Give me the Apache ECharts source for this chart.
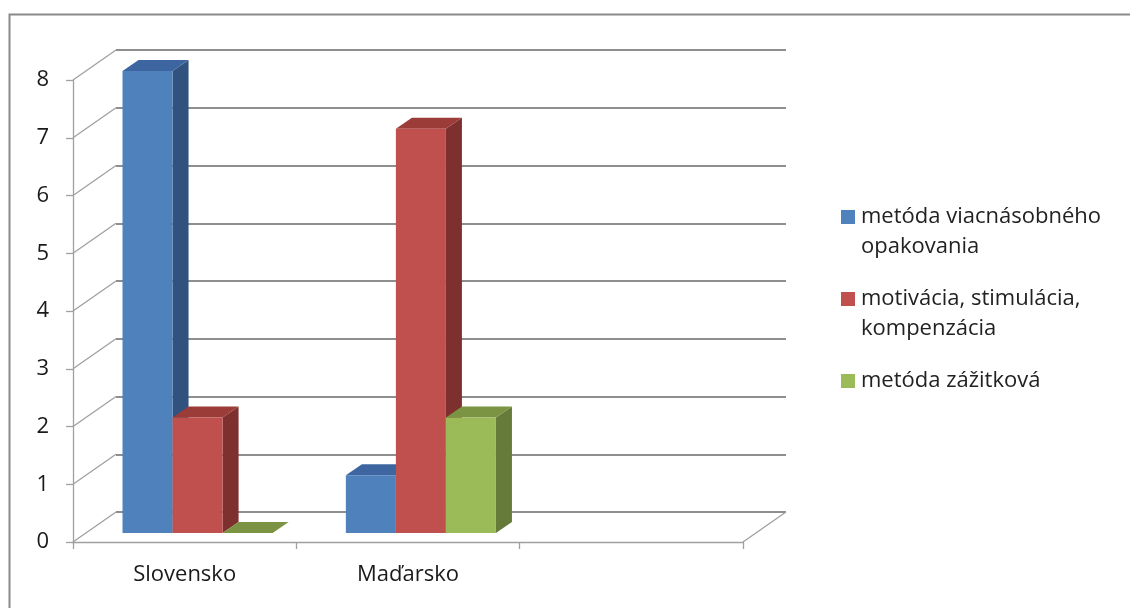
<!DOCTYPE html>
<html><head><meta charset="utf-8">
<script src="https://cdn.jsdelivr.net/npm/echarts@6/dist/echarts.min.js"></script>
<style>html,body{margin:0;padding:0;background:#fff}#c{width:1130px;height:608px}</style>
</head><body><div id="c"></div>
<script>
// ---- data ----
const categories = ['Slovensko', 'Maďarsko', ''];
const seriesNames = ['metóda viacnásobného opakovania', 'motivácia, stimulácia, kompenzácia', 'metóda zážitková'];
const legendLabels = ['metóda viacnásobného\nopakovania', 'motivácia, stimulácia,\nkompenzácia', 'metóda zážitková'];
const valuesViacnasobne = [8, 1];
const valuesMotivacia = [2, 7];
const valuesZazitkova = [0, 2];
const yTicks = [0, 1, 2, 3, 4, 5, 6, 7, 8];

// ---- style ----
const FONT = '"Open Sans", "Noto Sans", sans-serif';
const faceColors = [
  { front: '#4F81BD', side: '#31527F', top: '#3D66A0' },
  { front: '#C0504D', side: '#7D302E', top: '#9C3C39' },
  { front: '#9BBB59', side: '#667B3A', top: '#7A9444' }
];
const DEPTH_X = 43, DEPTH_Y = -30;   // front -> back wall
const BAR_DX = 16, BAR_DY = -11;     // bar thickness
const GRID_COLOR = '#8E8E8E';

const seriesValues = [valuesViacnasobne, valuesMotivacia, valuesZazitkova];

const chart = echarts.init(document.getElementById('c'), null, { renderer: 'canvas' });

function barRender(sIdx) {
  return function (params, api) {
    const cat = api.value(0), v = api.value(1);
    const base = api.coord([cat, 0]);
    const top = api.coord([cat, v]);
    const band = api.size([1, 0])[0];
    const w = band * 0.224;
    const x0 = base[0] - 1.5 * w + sIdx * w;
    const x1 = x0 + w;
    const yT = top[1], yB = base[1];
    const c = faceColors[sIdx];
    return {
      type: 'group',
      children: [
        { type: 'polygon', shape: { points: [[x1, yT], [x1 + BAR_DX, yT + BAR_DY], [x1 + BAR_DX, yB + BAR_DY], [x1, yB]] }, style: { fill: c.side } },
        { type: 'polygon', shape: { points: [[x0, yT], [x0 + BAR_DX, yT + BAR_DY], [x1 + BAR_DX, yT + BAR_DY], [x1, yT]] }, style: { fill: c.top } },
        { type: 'rect', shape: { x: x0, y: yT, width: w, height: yB - yT }, style: { fill: c.front } }
      ]
    };
  };
}

function wallRender(params, api) {
  const cs = params.coordSys;
  const v = api.value(1);
  const y = api.coord([0, v])[1];
  const children = [
    { type: 'line', shape: { x1: cs.x, y1: y, x2: cs.x + DEPTH_X, y2: y + DEPTH_Y }, style: { stroke: '#A0A0A0', lineWidth: 1.3 } }
  ];
  if (v === 0) {
    children.push({ type: 'line', shape: { x1: cs.x + cs.width, y1: y, x2: cs.x + cs.width + DEPTH_X, y2: y + DEPTH_Y }, style: { stroke: '#A0A0A0', lineWidth: 1.3 } });
  }
  return { type: 'group', children };
}

const grids = [
  { left: 73, top: 80, width: 670, height: 462 },                          // front plane
  { left: 73 + DEPTH_X, top: 80 + DEPTH_Y, width: 670, height: 462 },      // back wall
  { left: 73 + 0.3 * DEPTH_X, top: 80 + 0.3 * DEPTH_Y, width: 670, height: 462 } // bar plane
];

const yBase = { type: 'value', min: 0, max: 8, interval: 1 };

// legend as graphic (first line aligned with the marker, like the reference)
const legendGraphics = [];
let ly = 217;
legendLabels.forEach((lbl, i) => {
  legendGraphics.push({ type: 'rect', left: 841, top: ly - 7, shape: { width: 14, height: 14 }, style: { fill: faceColors[i].front } });
  legendGraphics.push({ type: 'text', x: 861, y: ly - 15, style: { text: lbl, font: '22px ' + FONT, fill: '#222', lineHeight: 30, verticalAlign: 'top' } });
  ly += lbl.split('\n').length * 30 + 22;
});

chart.setOption({
  animation: false,
  backgroundColor: '#ffffff',
  grid: grids,
  xAxis: [
    { type: 'category', gridIndex: 0, data: categories, boundaryGap: true,
      axisLine: { lineStyle: { color: '#A0A0A0', width: 1.3 } },
      axisTick: { show: true, length: 7, lineStyle: { color: '#A0A0A0', width: 1.3 } },
      axisLabel: { color: '#1a1a1a', fontSize: 22, fontFamily: FONT, margin: 22 } },
    { type: 'category', gridIndex: 1, data: categories, show: false },
    { type: 'category', gridIndex: 2, data: categories, show: false }
  ],
  yAxis: [
    Object.assign({}, yBase, { gridIndex: 0,
      axisLine: { show: true, lineStyle: { color: '#A0A0A0', width: 1.3 } },
      axisTick: { show: true, length: 7, lineStyle: { color: '#A0A0A0', width: 1.3 } },
      axisLabel: { color: '#1a1a1a', fontSize: 22, fontFamily: FONT, margin: 24 },
      splitLine: { show: false } }),
    Object.assign({}, yBase, { gridIndex: 1,
      axisLine: { show: false }, axisTick: { show: false }, axisLabel: { show: false },
      splitLine: { show: true, lineStyle: { color: GRID_COLOR, width: 2 } } }),
    Object.assign({}, yBase, { gridIndex: 2, show: false, splitLine: { show: false } })
  ],
  graphic: [
    { type: 'rect', left: 7, top: 12, shape: { width: 1200, height: 700 }, style: { fill: 'none', stroke: '#8A8A8A', lineWidth: 2 }, z: 100 }
  ].concat(legendGraphics),
  series: [
    { type: 'custom', name: 'walls', xAxisIndex: 0, yAxisIndex: 0, silent: true, z: 1,
      data: yTicks.map(v => [0, v]), renderItem: wallRender, clip: false }
  ].concat(seriesValues.map((vals, i) => ({
    type: 'custom', name: seriesNames[i], xAxisIndex: 2, yAxisIndex: 2, z: 5 + i,
    data: vals.map((v, j) => [j, v]), renderItem: barRender(i), clip: false
  })))
});
</script></body></html>
